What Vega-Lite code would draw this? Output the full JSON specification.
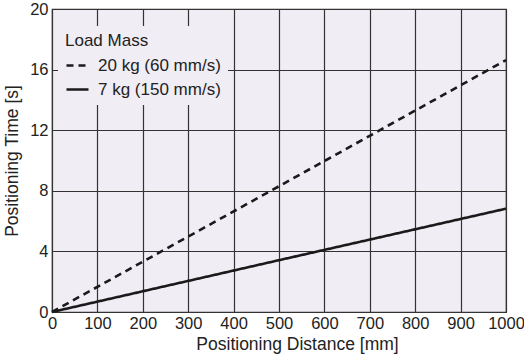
{
  "$schema": "https://vega.github.io/schema/vega-lite/v6.json",
  "width": 454,
  "height": 303,
  "autosize": {"type": "none"},
  "padding": {"left": 52, "top": 9, "right": 18, "bottom": 48},
  "background": "white",
  "config": {
    "font": "Liberation Sans",
    "view": {"fill": "#f1edf5", "stroke": "#333333", "strokeWidth": 1.2},
    "axis": {
      "grid": true,
      "gridColor": "#333333",
      "gridOpacity": 1,
      "gridWidth": 1.2,
      "domain": false,
      "ticks": false,
      "labelFont": "Liberation Sans",
      "labelFontSize": 16.5,
      "labelColor": "#222222",
      "titleFont": "Liberation Sans",
      "titleFontSize": 17.5,
      "titleFontWeight": "normal",
      "titleColor": "#222222"
    }
  },
  "data": {
    "values": [
      {"d": 0, "t": 0, "load": "20 kg (60 mm/s)"},
      {"d": 500, "t": 8.3, "load": "20 kg (60 mm/s)"},
      {"d": 1000, "t": 16.63, "load": "20 kg (60 mm/s)"},
      {"d": 0, "t": 0, "load": "\u20077 kg (150 mm/s)"},
      {"d": 500, "t": 3.42, "load": "\u20077 kg (150 mm/s)"},
      {"d": 1000, "t": 6.82, "load": "\u20077 kg (150 mm/s)"}
    ]
  },
  "mark": {"type": "line", "color": "#1a1a1a", "strokeWidth": 2.6},
  "encoding": {
    "x": {
      "field": "d",
      "type": "quantitative",
      "scale": {"domain": [0, 1000], "nice": false},
      "axis": {"values": [0, 100, 200, 300, 400, 500, 600, 700, 800, 900, 1000], "format": "d", "labelPadding": 3, "title": "Positioning Distance [mm]", "titlePadding": 4, "titleX": 245, "titleAlign": "center", "labelFlush": false}
    },
    "y": {
      "field": "t",
      "type": "quantitative",
      "scale": {"domain": [0, 20], "nice": false},
      "axis": {"values": [0, 4, 8, 12, 16, 20], "labelPadding": 4, "title": "Positioning Time [s]", "titlePadding": 8, "labelFlush": false}
    },
    "strokeDash": {
      "field": "load",
      "type": "nominal",
      "scale": {"domain": ["20 kg (60 mm/s)", "\u20077 kg (150 mm/s)"], "range": [[7, 5], [1, 0]]},
      "legend": {
        "title": "Load Mass",
        "orient": "none",
        "legendX": 6,
        "legendY": 17,
        "padding": 7,
        "fillColor": "#f1edf5",
        "titleFont": "Liberation Sans",
        "titleFontSize": 17,
        "titleFontWeight": "normal",
        "titleColor": "#222222",
        "titlePadding": 3,
        "labelFont": "Liberation Sans",
        "labelFontSize": 17,
        "labelColor": "#222222",
        "symbolType": "stroke",
        "symbolSize": 484,
        "symbolStrokeWidth": 2.6,
        "symbolStrokeColor": "#1a1a1a",
        "rowPadding": 3,
        "labelOffset": 8
      }
    }
  }
}
